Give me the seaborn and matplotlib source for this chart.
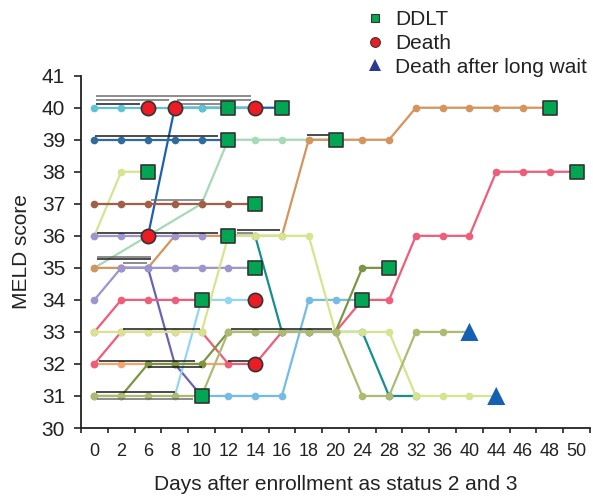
import matplotlib
matplotlib.use("Agg")
import matplotlib.pyplot as plt
import seaborn as sns
import pandas as pd
from matplotlib.lines import Line2D

# ---------------- data ----------------
days = [0, 2, 6, 8, 10, 12, 14, 16, 18, 20, 24, 28, 32, 36, 40, 44, 46, 48, 50]
N = None
salmon = [32, 32, 32, 32, 32, 32] + [N] * 13
pink_b = [32, 33, 33, 33, 33, 32, 32, 33, 33, 33, 34, 34, 36, 36, 36, 38, 38, 38, 38]
teal   = [N] * 5 + [36, 36, 33, 33, 33, 33, 31, 31] + [N] * 6
mint   = [35, N, 36, N, 37, 39, 39, 39, 39, 39] + [N] * 9
lime_a = [36, 38, 38] + [N] * 16
orange = [35, 35, 35, 36, 36, 36, 36, 36, 39, 39, 39, 39, 40, 40, 40, 40, 40, 40, N]
slate  = [N, 35, 35, 32, 31] + [N] * 14
blue   = [N, N, 36, 40, 40, 40, 40, 40] + [N] * 11
cyan   = [40] * 7 + [N] * 12
steel  = [39] * 6 + [N] * 13
brown  = [37] * 7 + [N] * 12
lav_a  = [36] * 5 + [N] * 14
lav_b  = [34, 35, 35, 35, 35, 35, 35] + [N] * 12
pink_a = [33, 34, 34, 34, 34] + [N] * 14
sky_a  = [N, N, N, 31, 34, 34, 34] + [N] * 12
sky_b  = [N] * 4 + [31, 31, 31, 31, 34, 34, 34] + [N] * 8
lime_b = [33, 33, 33, 33, 33, 36, 36, 36, 36, 33, 33, 33, 31, 31, 31, 31, N, N, N]
olive  = [31, 31, 32, 32, 32, 33, 33, 33, 33, 33, 35, 35] + [N] * 7
khaki  = [31, 31, 31, 31, 31, 33, 33, 33, 33, 33, 31, 31, 33, 33, 33] + [N] * 4

ddlt_day   = [6, 12, 16, 12, 20, 48, 14, 12, 14, 10, 24, 28, 10, 50]
ddlt_score = [38, 40, 40, 39, 39, 40, 37, 36, 35, 34, 34, 35, 31, 38]
death_day   = [6, 8, 14, 6, 14, 14]
death_score = [40, 40, 40, 36, 34, 32]
wait_day   = [40, 44]
wait_score = [33, 31]

# short horizontal brackets (x in category positions, y in MELD units)
br_x0 = [0.07, 0.07, 3.10, 0.07, 3.10, 0.04, 7.95, 2.13, 0.11, 5.34, 5.34, 0.11, 0.11, 1.08, 1.08, 5.10, 0.19, 2.01, 5.00, 0.07, 0.11]
br_x1 = [5.86, 2.80, 5.86, 1.72, 4.70, 4.63, 8.90, 4.10, 4.63, 6.94, 5.93, 2.13, 2.13, 1.98, 3.96, 8.88, 3.77, 4.03, 5.82, 3.02, 3.69]
br_y  = [40.37, 40.25, 40.25, 40.11, 40.11, 39.13, 39.15, 37.12, 36.10, 36.18, 36.08, 35.34, 35.27, 35.14, 33.08, 33.08, 32.09, 31.89, 32.09, 31.11, 30.89]
br_c  = ["g", "g", "g", "k", "g", "k", "k", "g", "k", "k", "g", "g", "k", "g", "k", "k", "k", "k", "k", "k", "g"]

series = {
    "salmon": salmon, "pink_b": pink_b, "teal": teal, "mint": mint,
    "lime_a": lime_a, "orange": orange, "slate": slate, "blue": blue,
    "cyan": cyan, "steel": steel, "brown": brown, "lav_a": lav_a,
    "lav_b": lav_b, "pink_a": pink_a, "sky_a": sky_a, "sky_b": sky_b,
    "lime_b": lime_b, "olive": olive, "khaki": khaki,
}
palette = {
    "salmon": "#f5a46c", "pink_b": "#ef5d78", "teal": "#168e8e", "mint": "#a5dab5",
    "lime_a": "#d6e48f", "orange": "#d4945c", "slate": "#6a63b3", "blue": "#1b60b4",
    "cyan": "#5ec4d4", "steel": "#2f6c9d", "brown": "#a25f48", "lav_a": "#9c95cf",
    "lav_b": "#9c95cf", "pink_a": "#ef5d78", "sky_a": "#93d6f3", "sky_b": "#74bce5",
    "lime_b": "#d6e48f", "olive": "#7b9543", "khaki": "#adbb72",
}

rows = []
for name, vals in series.items():
    for i, v in enumerate(vals):
        if v is not None:
            rows.append({"pos": i, "score": v, "pid": name})
df = pd.DataFrame(rows)

pos_of = {d: i for i, d in enumerate(days)}
ddlt = pd.DataFrame({"pos": [pos_of[d] for d in ddlt_day], "score": ddlt_score})
death = pd.DataFrame({"pos": [pos_of[d] for d in death_day], "score": death_score})
wait = pd.DataFrame({"pos": [pos_of[d] for d in wait_day], "score": wait_score})

# ---------------- style ----------------
sns.set_style("ticks")
plt.rcParams["font.family"] = ["Liberation Sans", "DejaVu Sans"]

fig = plt.figure(figsize=(5.93, 4.96), dpi=100)
ax = fig.add_axes([81 / 593, 68 / 496, 509 / 593, 352.3 / 496])

sns.lineplot(data=df, x="pos", y="score", hue="pid", hue_order=list(series.keys()),
             palette=palette, estimator=None, sort=True, marker="o", markersize=5.5,
             markeredgewidth=0, linewidth=1.6, legend=False, ax=ax)

cmap = {"g": "#6e6e6e", "k": "#1a1a1a"}
ax.hlines(br_y, br_x0, br_x1, colors=[cmap[c] for c in br_c], linewidth=1.1, zorder=3)

sns.scatterplot(data=ddlt, x="pos", y="score", marker="s", s=95, color="#00a651",
                edgecolor="#333333", linewidth=1.2, zorder=5, ax=ax, legend=False)
sns.scatterplot(data=death, x="pos", y="score", marker="o", s=105, color="#ed1c24",
                edgecolor="#333333", linewidth=1.2, zorder=5, ax=ax, legend=False)
sns.scatterplot(data=wait, x="pos", y="score", marker="^", s=170, color="#1560b3",
                edgecolor="none", linewidth=0, zorder=5, ax=ax, legend=False)

ax.set_xlim(-0.5, 18.5)
ax.set_ylim(30, 41)
ax.set_yticks(range(30, 42))
ax.set_xticks(range(len(days)))
ax.set_xticklabels([str(d) for d in days], fontsize=13, color="#222222")
ax.set_xticks([i - 0.5 for i in range(len(days) + 1)], minor=True)
ax.tick_params(axis="x", which="major", length=0, pad=11)
ax.tick_params(axis="x", which="minor", length=3.8, width=1.2, direction="out", color="#222222")
ax.tick_params(axis="y", length=5, width=1.2, pad=6.5, labelsize=15, labelcolor="#222222", color="#222222")
for s in ["top", "right"]:
    ax.spines[s].set_visible(False)
for s in ["left", "bottom"]:
    ax.spines[s].set_linewidth(1.3)
    ax.spines[s].set_color("#222222")

ax.set_xlabel("Days after enrollment as status 2 and 3", fontsize=15, color="#222222", labelpad=10.5)
ax.set_ylabel("MELD score", fontsize=15, color="#222222", labelpad=8)

handles = [
    Line2D([], [], linestyle="none", marker="s", markersize=6, markerfacecolor="#00a651",
           markeredgecolor="#333333", markeredgewidth=0.8),
    Line2D([], [], linestyle="none", marker="o", markersize=7, markerfacecolor="#ed1c24",
           markeredgecolor="#333333", markeredgewidth=0.8),
    Line2D([], [], linestyle="none", marker="^", markersize=8, markerfacecolor="#2b3990",
           markeredgewidth=0),
]
fig.legend(handles, ["DDLT", "Death", "Death after long wait"], loc="upper left",
           bbox_to_anchor=(0.615, 0.979), frameon=False, fontsize=15,
           handlelength=1.0, handletextpad=0.45, labelspacing=0.22,
           borderpad=0, borderaxespad=0, labelcolor="#222222")

fig.savefig("out.png", dpi=100)
